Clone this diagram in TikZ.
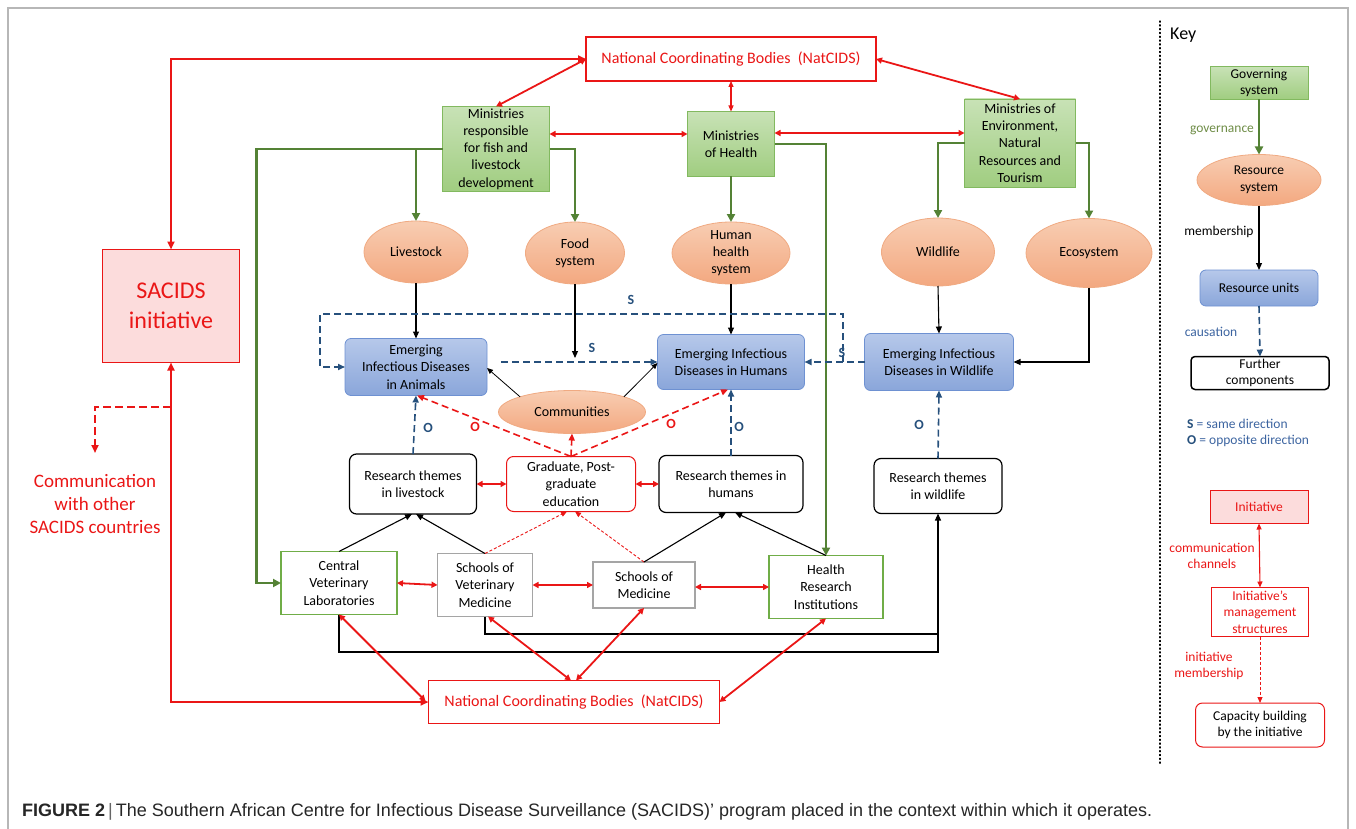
\documentclass[tikz,border=0pt]{standalone}
\usepackage{fontspec}
\setmainfont{Carlito}
\newfontfamily\capfont{Liberation Sans}
\usetikzlibrary{shapes.geometric,arrows.meta,calc}
\definecolor{cred}{RGB}{234,22,22}
\definecolor{cgreen}{RGB}{84,130,53}
\definecolor{cblue}{RGB}{38,80,124}
\definecolor{cblue2}{RGB}{60,100,160}
\definecolor{gtop}{RGB}{200,226,182}
\definecolor{gbot}{RGB}{160,205,128}
\definecolor{gedge}{RGB}{130,185,95}
\definecolor{etop}{RGB}{248,205,178}
\definecolor{ebot}{RGB}{243,168,128}
\definecolor{eedge}{RGB}{240,170,130}
\definecolor{btop}{RGB}{182,200,234}
\definecolor{bbot}{RGB}{138,166,218}
\definecolor{bedge}{RGB}{110,145,210}
\definecolor{pinkf}{RGB}{252,220,220}
\definecolor{bxgreen}{RGB}{112,173,71}
\definecolor{bxgray}{RGB}{165,165,165}
\definecolor{govtxt}{RGB}{110,140,70}
\begin{document}
\begin{tikzpicture}[x=1pt,y=-1pt,
  base/.style={inner sep=0pt,outer sep=0pt,align=center,font=\fontsize{14}{17.3}\selectfont},
  gbox/.style={base,draw=gedge,line width=0.8pt,top color=gtop,bottom color=gbot},
  ell/.style={base,ellipse,draw=eedge,line width=0.8pt,top color=etop,bottom color=ebot},
  bbox/.style={base,rounded corners=6pt,draw=bedge,line width=0.8pt,top color=btop,bottom color=bbot},
  wbox/.style={base,rounded corners=7pt,draw=black,line width=1.2pt,fill=white},
  rrbox/.style={base,rounded corners=7pt,draw=cred,line width=1pt,fill=white},
  plainbox/.style={base,draw=#1,line width=1.2pt,fill=white},
  natbox/.style={base,draw=cred,line width=1.4pt,fill=white,text=cred,font=\fontsize{16}{18}\selectfont},
  ltxt/.style={align=center,inner sep=0pt,font=\fontsize{14}{17.3}\selectfont},
  redthick/.style={draw=cred,line width=2.4pt,{Triangle[length=8pt,width=7pt]}-{Triangle[length=8pt,width=7pt]}},
  reddbl/.style={draw=cred,line width=1.8pt,{Triangle[length=6pt,width=6pt]}-{Triangle[length=6pt,width=6pt]}},
  redthin/.style={draw=cred,line width=1.1pt,{Triangle[length=6pt,width=5pt]}-{Triangle[length=6pt,width=5pt]}},
  greenarr/.style={draw=cgreen,line width=2.8pt,-{Triangle[length=8pt,width=8pt]}},
  blackarr/.style={draw=black,line width=1.1pt,-{Triangle[length=7pt,width=6pt]}},
  bluedash/.style={draw=cblue,line width=1.6pt,dash pattern=on 7pt off 4pt,-{Triangle[length=7pt,width=6pt]}},
  reddash/.style={draw=cred,line width=1.6pt,dash pattern=on 7pt off 4pt,-{Triangle[length=7pt,width=6pt]}},
  reddot/.style={draw=cred,line width=0.9pt,dash pattern=on 3pt off 2pt,-{Triangle[length=6pt,width=5pt]}},
  slab/.style={text=cblue,font=\fontsize{14}{14}\selectfont\bfseries,inner sep=0pt},
  olab/.style={text=cred,font=\fontsize{14}{14}\selectfont\bfseries,inner sep=0pt},
  keytxt/.style={align=center,inner sep=0pt,font=\fontsize{13.5}{16.5}\selectfont}
]
\useasboundingbox (0,0) rectangle (1356,829);
% frame
\draw[draw=bxgray!80,line width=1.2pt] (8,829) -- (8,8) -- (1348,8) -- (1348,829);

% ---------- governing level
\node[natbox,minimum width=290pt,minimum height=44pt] (natTop) at (731,59) {National Coordinating Bodies\ \ (NatCIDS)};
\node[gbox,minimum width=107pt,minimum height=85pt] (fish) at (496,149) {Ministries\\responsible\\for fish and\\livestock\\development};
\node[gbox,minimum width=87pt,minimum height=65pt] (health) at (731,144) {Ministries\\of Health};
\node[gbox,minimum width=111pt,minimum height=88pt] (env) at (1020,143) {Ministries of\\Environment,\\Natural\\Resources and\\Tourism};
\node[base,draw=cred,line width=1.2pt,fill=pinkf,text=cred,minimum width=137pt,minimum height=113pt,font=\fontsize{24}{30}\selectfont] (sacids) at (171,306) {SACIDS\\initiative};

% ---------- resource systems
\node[ell,minimum width=104pt,minimum height=62pt,label={[ltxt]center:Livestock}] (livestock) at (416,252) {};
\node[ell,minimum width=99pt,minimum height=62pt,label={[ltxt]center:Food\\system}] (food) at (575,253) {};
\node[ell,minimum width=118pt,minimum height=62pt,label={[ltxt]center:Human\\health\\system}] (human) at (731,253) {};
\node[ell,minimum width=113pt,minimum height=68pt,label={[ltxt]center:Wildlife}] (wildlife) at (938,252) {};
\node[ell,minimum width=126pt,minimum height=69pt,label={[ltxt]center:Ecosystem}] (ecosystem) at (1089,253) {};

% ---------- EIDs
\node[bbox,minimum width=142pt,minimum height=57pt] (eidA) at (416,367) {Emerging\\Infectious Diseases\\in Animals};
\node[bbox,minimum width=147pt,minimum height=55pt] (eidH) at (731,362) {Emerging Infectious\\Diseases in Humans};
\node[bbox,minimum width=149pt,minimum height=57pt] (eidW) at (939,362) {Emerging Infectious\\Diseases in Wildlife};
\node[ell,minimum width=147pt,minimum height=43pt,label={[ltxt]center:Communities}] (comm) at (572,412) {};

% ---------- research themes
\node[wbox,minimum width=127pt,minimum height=60pt] (rtL) at (413,484) {Research themes\\in livestock};
\node[rrbox,minimum width=129pt,minimum height=55pt] (grad) at (571,484) {Graduate, Post-\\graduate\\education};
\node[wbox,minimum width=144pt,minimum height=57pt] (rtH) at (731,484) {Research themes in\\humans};
\node[wbox,minimum width=128pt,minimum height=55pt] (rtW) at (938,486) {Research themes\\in wildlife};

% ---------- institutions
\node[plainbox=bxgreen,minimum width=116pt,minimum height=63pt] (cvl) at (339,583) {Central\\Veterinary\\Laboratories};
\node[plainbox=bxgray,minimum width=95pt,minimum height=63pt] (svm) at (485,585) {Schools of\\Veterinary\\Medicine};
\node[plainbox=bxgray,minimum width=102pt,minimum height=46pt] (som) at (644,585) {Schools of\\Medicine};
\node[plainbox=bxgreen,minimum width=114pt,minimum height=63pt] (hri) at (826,587) {Health\\Research\\Institutions};
\node[natbox,minimum width=291pt,minimum height=43pt] (natBot) at (574,702) {National Coordinating Bodies\ \ (NatCIDS)};

\node[base,text=cred,font=\fontsize{19}{23}\selectfont] (commtext) at (95,504) {Communication\\with other\\SACIDS countries};

% ---------- connectors: red governance links
\draw[redthick] (natTop.west) -| (sacids.north);
\draw[redthick] (sacids.south) |- (natBot.west);
\coordinate (cbr) at (171,407);
\coordinate (cend) at (95,453);
\draw[draw=cred,line width=2.4pt,dash pattern=on 8pt off 4pt,-{Triangle[length=8pt,width=7pt]}] (cbr) -| (cend);
\draw[reddbl] (natTop.west) -- (fish.north);
\draw[redthin] (natTop.south) -- (health.north);
\draw[reddbl] (natTop.east) -- (env.north);
\draw[reddbl] ([yshift=15pt]fish.east) -- ([yshift=10pt]health.west);
\draw[reddbl] ([yshift=11pt]health.east) -- ([yshift=10pt]env.west);

% ---------- green governance arrows
\draw[greenarr] (fish.west) -- ++(-186,0) |- (cvl.west);
\draw[greenarr] (fish.west) -| (livestock.north);
\draw[greenarr] (fish.east) -| (food.north);
\draw[greenarr] (health.south) -- (human.north);
\draw[greenarr] (health.east) -| (hri.north);
\draw[greenarr] (env.west) -| (wildlife.north);
\draw[greenarr] (env.east) -| (ecosystem.north);

% ---------- black membership arrows
\coordinate (foodEnd) at (575,358);
\draw[blackarr] (livestock.south) -- (eidA.north);
\draw[blackarr] (food.south) -- (foodEnd);
\draw[blackarr] (human.south) -- (eidH.north);
\draw[blackarr] (wildlife.south) -- (eidW.north);
\draw[blackarr] (ecosystem.south) |- (eidW.east);
\draw[draw=black,line width=0.8pt,-{Triangle[length=6pt,width=5pt]}] (comm.north west) -- ([yshift=-1pt]eidA.east);
\draw[draw=black,line width=0.8pt,-{Triangle[length=6pt,width=5pt]}] (comm.north east) -- ([yshift=-1pt]eidH.west);

% ---------- blue causation links
\coordinate (sA) at (843,362);
\coordinate (sB) at (843,314);
\coordinate (sC) at (320,314);
\coordinate (sD) at (320,367);
\draw[bluedash] (sA) -- (sB) -- (sC) -- (sD) -- (eidA.west);
\draw[bluedash] ([shift={(14pt,5pt)}]eidA.east) -- ([yshift=0pt]eidH.west);
\draw[bluedash] (eidW.west) -- (eidH.east);
\draw[bluedash] (rtL.north) -- (eidA.south);
\draw[bluedash] (rtH.north) -- (eidH.south);
\draw[bluedash] (rtW.north) -- (eidW.south);
\node[slab] (s1) at (631,300) {S};
\node[slab] (s2) at (592,348) {S};
\node[slab] (s3) at (842,353) {S};
\node[slab] (o1) at (428,428) {O};
\node[slab] (o2) at (739,427) {O};
\node[slab] (o3) at (919,425) {O};
\node[olab] (o4) at (475,427) {O};
\node[olab] (o5) at (671,424) {O};

% ---------- red graduate links
\draw[reddash] (grad.north) -- ([xshift=1pt]eidA.south);
\draw[reddash] (grad.north) -- ([xshift=-3pt]eidH.south);
\draw[reddash] (grad.north) -- (comm.south);
\draw[reddbl] (rtL.east) -- (grad.west);
\draw[reddbl] (grad.east) -- (rtH.west);

% ---------- institutions to research themes
\draw[blackarr] (cvl.north) -- ([xshift=-1pt]rtL.south);
\draw[blackarr] (svm.north) -- ([xshift=3pt]rtL.south);
\draw[reddot] (svm.north) -- ([xshift=-4pt]grad.south);
\draw[reddot] (som.north) -- ([xshift=4pt]grad.south);
\draw[blackarr] (som.north) -- ([xshift=-5pt]rtH.south);
\draw[blackarr] (hri.north) -- ([xshift=4pt]rtH.south);
\coordinate (y652) at (0,652);
\coordinate (y634) at (0,634);
\draw[blackarr] (cvl.south) -- (cvl.south |- y652) -| (rtW.south);
\draw[draw=black,line width=1.1pt] (svm.south) -- (svm.south |- y634) -- (rtW.south |- y634);

% ---------- institution links
\draw[reddbl] (cvl.east) -- (svm.west);
\draw[reddbl] (svm.east) -- (som.west);
\draw[reddbl] ([yshift=-2pt]som.east) -- (hri.west);
\draw[reddbl] (cvl.south) -- ([xshift=-3pt,yshift=1pt]natBot.west);
\draw[reddbl] ([xshift=3pt]svm.south) -- ([xshift=-3pt]natBot.north);
\draw[reddbl] (som.south) -- ([xshift=2pt]natBot.north);
\draw[reddbl] (hri.south) -- (natBot.east);

% ---------- key
\draw[line width=1.2pt,dash pattern=on 1.2pt off 2.6pt,line cap=round] (1160,21) -- (1160,765);
\node[anchor=west,inner sep=0pt,font=\fontsize{18}{20}\selectfont] (keytitle) at (1170,35) {Key};
\node[gbox,font=\fontsize{13.5}{16.5}\selectfont,minimum width=98pt,minimum height=33pt] (gov) at (1259,83) {Governing\\system};
\node[ell,minimum width=124pt,minimum height=51pt,label={[keytxt]center:Resource\\system}] (rsys) at (1259,180) {};
\node[bbox,font=\fontsize{13.5}{16.5}\selectfont,minimum width=118pt,minimum height=36pt] (runits) at (1259,288) {Resource units};
\node[wbox,font=\fontsize{13.5}{16.5}\selectfont,line width=1.5pt,rounded corners=4pt,minimum width=138pt,minimum height=33pt] (further) at (1260,373) {Further\\components};
\draw[greenarr] (gov.south) -- (rsys.north);
\draw[blackarr] (rsys.south) -- (runits.north);
\draw[bluedash] (runits.south) -- (further.north);
\node[keytxt,text=govtxt] (lgov) at (1222,130) {governance};
\node[keytxt] (lmem) at (1219,232) {membership};
\node[keytxt,text=cblue2] (lcaus) at (1211,332) {causation};
\node[anchor=west,inner sep=0pt,font=\fontsize{13.5}{17}\selectfont,text=cblue2] (lS) at (1187,424) {\textbf{\color{cblue}S} = same direction};
\node[anchor=west,inner sep=0pt,font=\fontsize{13.5}{17}\selectfont,text=cblue2] (lO) at (1187,441) {\textbf{\color{cblue}O} = opposite direction};
\node[base,font=\fontsize{13.5}{16.5}\selectfont,draw=cred,line width=1pt,fill=pinkf,text=cred,minimum width=98pt,minimum height=33pt] (init) at (1259,507) {Initiative};
\node[base,font=\fontsize{13.5}{16.5}\selectfont,draw=cred,line width=1pt,fill=white,text=cred,minimum width=97pt,minimum height=49pt] (mgmt) at (1260,612) {Initiative’s\\management\\structures};
\node[rrbox,font=\fontsize{13.5}{16.5}\selectfont,minimum width=129pt,minimum height=44pt] (cap) at (1260,725) {Capacity building\\by the initiative};
\draw[redthin] (init.south) -- (mgmt.north);
\draw[reddot] (mgmt.south) -- (cap.north);
\node[keytxt,text=cred] (lcomm) at (1212,556) {communication\\channels};
\node[keytxt,text=cred] (linit) at (1209,666) {initiative\\membership};

% ---------- caption
\node[anchor=west,inner sep=0pt,font=\capfont\fontsize{18}{20}\selectfont,text=black!85] (caption) at (22,812) {\textbf{FIGURE 2}\,{\color{black!60}|}\,The Southern African Centre for Infectious Disease Surveillance (SACIDS)’ program placed in the context within which it operates.};
\end{tikzpicture}
\end{document}
